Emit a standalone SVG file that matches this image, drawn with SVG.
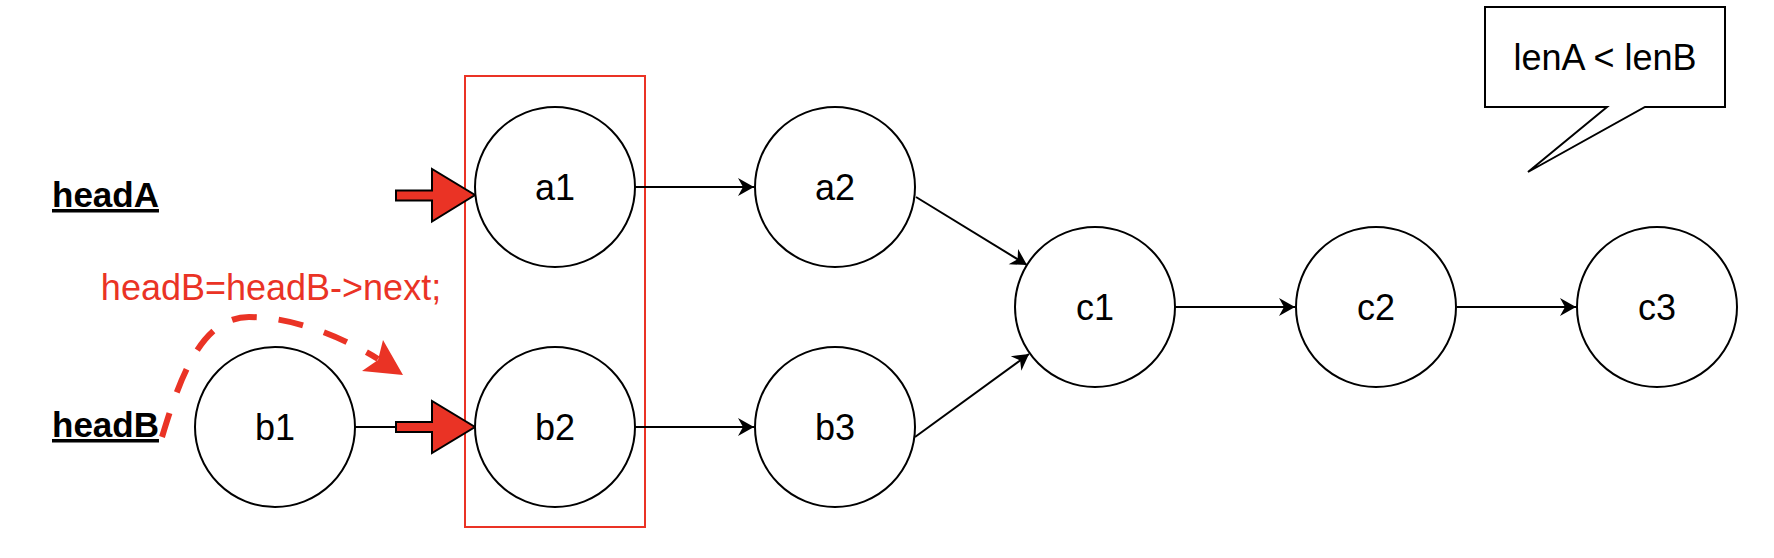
<svg xmlns="http://www.w3.org/2000/svg" width="1774" height="558" viewBox="0 0 1774 558">
  <style>
    .node circle { fill: #ffffff; stroke: #000000; stroke-width: 2; }
    .lbl { font-family: "Liberation Sans", Arial, Helvetica, sans-serif; font-size: 36px; fill: #000000; text-anchor: middle; }
    .head { font-family: "Liberation Sans", Arial, Helvetica, sans-serif; font-size: 35px; font-weight: bold; fill: #000000; text-decoration: underline; }
    .edge { stroke: #000000; stroke-width: 2; fill: none; }
    .block { fill: #EA3325; stroke: #000000; stroke-width: 2; stroke-linejoin: miter; }
    .red { fill: #EA3325; }
  </style>
  <defs>
    <marker id="arr" markerUnits="userSpaceOnUse" markerWidth="20" markerHeight="20" viewBox="-17 -10 18 20" refX="0" refY="0" orient="auto">
      <path d="M0,0 L-16,-9 L-11,0 L-16,9 Z" fill="#000000"/>
    </marker>
  </defs>

  <rect width="1774" height="558" fill="#ffffff"/>

  <!-- highlight box -->
  <g id="highlight">
    <rect x="465" y="76" width="180" height="451" fill="none" stroke="#EA3325" stroke-width="2"/>
  </g>

  <!-- connectors -->
  <g id="connectors">
    <line class="edge" x1="635" y1="187" x2="754" y2="187" marker-end="url(#arr)"/>
    <line class="edge" x1="635" y1="427" x2="754" y2="427" marker-end="url(#arr)"/>
    <line class="edge" x1="916" y1="197" x2="1027" y2="265" marker-end="url(#arr)"/>
    <line class="edge" x1="915" y1="437" x2="1029" y2="354" marker-end="url(#arr)"/>
    <line class="edge" x1="1175" y1="307" x2="1295" y2="307" marker-end="url(#arr)"/>
    <line class="edge" x1="1457" y1="307" x2="1576" y2="307" marker-end="url(#arr)"/>
    <line class="edge" x1="355" y1="427" x2="397" y2="427"/>
    <!-- dashed curved move arrow -->
    <path d="M162,437 C178,385 199,317 249,317 C294,317 342,337 378,359" fill="none" stroke="#EA3325" stroke-width="6" stroke-dasharray="25 22"/>
    <polygon class="red" points="403,375 383,340 378,360 362,371"/>
  </g>

  <!-- block pointer arrows -->
  <g id="pointerA">
    <polygon class="block" points="396,190.5 432,190.5 432,169 475,195 432,221.5 432,200.5 396,200.5"/>
  </g>
  <g id="pointerB">
    <polygon class="block" points="396,422 432,422 432,401 475,427 432,453 432,432 396,432"/>
  </g>

  <!-- labels -->
  <g id="headA">
    <text class="head" x="52" y="207">headA</text>
  </g>
  <g id="headB">
    <text class="head" x="52" y="437">headB</text>
  </g>
  <g id="note">
    <text x="271" y="300" font-family="'Liberation Sans', Arial, Helvetica, sans-serif" font-size="36" fill="#EA3325" text-anchor="middle">headB=headB-&gt;next;</text>
  </g>

  <!-- nodes -->
  <g id="a1" class="node"><circle cx="555" cy="187" r="80"/><text class="lbl" x="555" y="200">a1</text></g>
  <g id="a2" class="node"><circle cx="835" cy="187" r="80"/><text class="lbl" x="835" y="200">a2</text></g>
  <g id="b1" class="node"><circle cx="275" cy="427" r="80"/><text class="lbl" x="275" y="440">b1</text></g>
  <g id="b2" class="node"><circle cx="555" cy="427" r="80"/><text class="lbl" x="555" y="440">b2</text></g>
  <g id="b3" class="node"><circle cx="835" cy="427" r="80"/><text class="lbl" x="835" y="440">b3</text></g>
  <g id="c1" class="node"><circle cx="1095" cy="307" r="80"/><text class="lbl" x="1095" y="320">c1</text></g>
  <g id="c2" class="node"><circle cx="1376" cy="307" r="80"/><text class="lbl" x="1376" y="320">c2</text></g>
  <g id="c3" class="node"><circle cx="1657" cy="307" r="80"/><text class="lbl" x="1657" y="320">c3</text></g>

  <!-- callout -->
  <g id="callout">
    <path d="M1485,7 L1725,7 L1725,107 L1645,107 L1528,172 L1607,107 L1485,107 Z" fill="#ffffff" stroke="#000000" stroke-width="2" stroke-linejoin="miter"/>
    <text class="lbl" x="1605" y="70">lenA &lt; lenB</text>
  </g>
</svg>
